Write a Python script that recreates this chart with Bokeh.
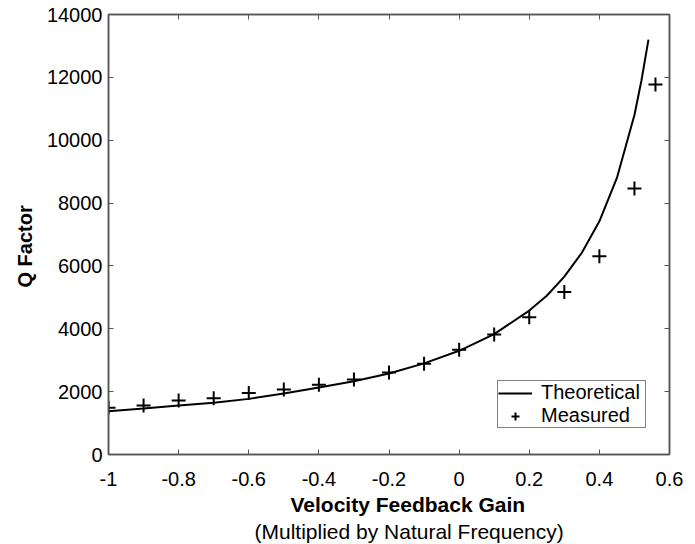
from bokeh.plotting import figure
from bokeh.models import (Range1d, FixedTicker, LinearAxis, Legend, LegendItem,
                          Title, ColumnDataSource)
from bokeh.embed import file_html
from bokeh.resources import INLINE

# ---- data ----
theory_gain = [-1.0, -0.9, -0.8, -0.7, -0.6, -0.5, -0.4, -0.3, -0.2, -0.1, 0.0,
               0.1, 0.2, 0.25, 0.3, 0.35, 0.4, 0.45, 0.5, 0.52, 0.54]
theory_q = [1380, 1460, 1560, 1650, 1770, 1940, 2130, 2330, 2580, 2900, 3300,
            3830, 4580, 5050, 5660, 6420, 7420, 8800, 10800, 11900, 13200]

measured_gain = [-1.0, -0.9, -0.8, -0.7, -0.6, -0.5, -0.4, -0.3, -0.2, -0.1,
                 0.0, 0.1, 0.2, 0.3, 0.4, 0.5, 0.56]
measured_q = [1485, 1560, 1720, 1790, 1960, 2070, 2220, 2390, 2610, 2890,
              3330, 3820, 4370, 5170, 6310, 8460, 11770]

x_ticks = [-1.0, -0.8, -0.6, -0.4, -0.2, 0.0, 0.2, 0.4, 0.6]
x_tick_labels = ["-1", "-0.8", "-0.6", "-0.4", "-0.2", "0", "0.2", "0.4", "0.6"]
y_ticks = [0, 2000, 4000, 6000, 8000, 10000, 12000, 14000]
y_tick_labels = ["0", "2000", "4000", "6000", "8000", "10000", "12000", "14000"]

FONT = "Liberation Sans"
AXIS_COLOR = "#555555"

p = figure(width=687, height=544, output_backend="svg", toolbar_location=None,
           x_range=Range1d(-1, 0.6), y_range=Range1d(0, 14000),
           min_border_left=108, min_border_right=18, min_border_top=14,
           min_border_bottom=90, background_fill_color="white",
           border_fill_color="white")
p.grid.visible = False
p.outline_line_color = AXIS_COLOR
p.outline_line_width = 1.5

for ax in p.xaxis:
    ax.ticker = FixedTicker(ticks=x_ticks)
    ax.major_label_overrides = {t: l for t, l in zip(x_ticks, x_tick_labels)}
for ax in p.yaxis:
    ax.ticker = FixedTicker(ticks=y_ticks)
    ax.major_label_overrides = {t: l for t, l in zip(y_ticks, y_tick_labels)}

for ax in list(p.xaxis) + list(p.yaxis):
    ax.major_tick_in = 5
    ax.major_tick_out = 0
    ax.minor_tick_line_color = None
    ax.axis_line_color = AXIS_COLOR
    ax.axis_line_width = 1.5
    ax.major_tick_line_color = AXIS_COLOR
    ax.major_label_text_font = FONT
    ax.major_label_text_font_size = "20px"
    ax.major_label_text_color = "black"
p.xaxis.major_label_standoff = 17
p.yaxis.major_label_standoff = 6

# mirrored axes (ticks only, no labels)
top = LinearAxis(ticker=FixedTicker(ticks=x_ticks),
                 major_label_overrides={t: "" for t in x_ticks})
right = LinearAxis(ticker=FixedTicker(ticks=y_ticks),
                   major_label_overrides={t: "" for t in y_ticks})
for ax in (top, right):
    ax.major_tick_in = 5
    ax.major_tick_out = 0
    ax.minor_tick_line_color = None
    ax.axis_line_color = AXIS_COLOR
    ax.axis_line_width = 1.5
    ax.major_tick_line_color = AXIS_COLOR
    ax.major_label_standoff = 0
p.add_layout(top, "above")
p.add_layout(right, "right")

src_t = ColumnDataSource(dict(x=theory_gain, y=theory_q))
src_m = ColumnDataSource(dict(x=measured_gain, y=measured_q))
line = p.line("x", "y", source=src_t, line_color="black", line_width=2)
pts = p.scatter("x", "y", source=src_m, marker="cross", size=14,
                line_color="black", line_width=2)

legend = Legend(items=[LegendItem(label="Theoretical", renderers=[line]),
                       LegendItem(label="Measured", renderers=[pts])],
                location=(389, 26), padding=0, spacing=0, margin=0,
                glyph_width=34, glyph_height=20, label_height=20,
                label_width=104, label_standoff=9, label_text_font=FONT,
                label_text_font_size="20px", label_text_color="black",
                border_line_color="black", border_line_width=1.5,
                background_fill_color="white", background_fill_alpha=1)
p.add_layout(legend, "center")

t1 = Title(text="Velocity Feedback Gain", align="left", offset=182,
           text_font=FONT, text_font_size="21px", text_font_style="bold",
           text_color="black", standoff=4)
t2 = Title(text="(Multiplied by Natural Frequency)", align="left", offset=146,
           text_font=FONT, text_font_size="21px", text_font_style="normal",
           text_color="black", standoff=0)
p.add_layout(t1, "below")
p.add_layout(t2, "below")

ty = Title(text="Q Factor", align="left", offset=167, text_font=FONT,
           text_font_size="20px", text_font_style="bold", text_color="black",
           standoff=15)
p.add_layout(ty, "left")

open("out.html", "w").write(file_html(p, INLINE))
